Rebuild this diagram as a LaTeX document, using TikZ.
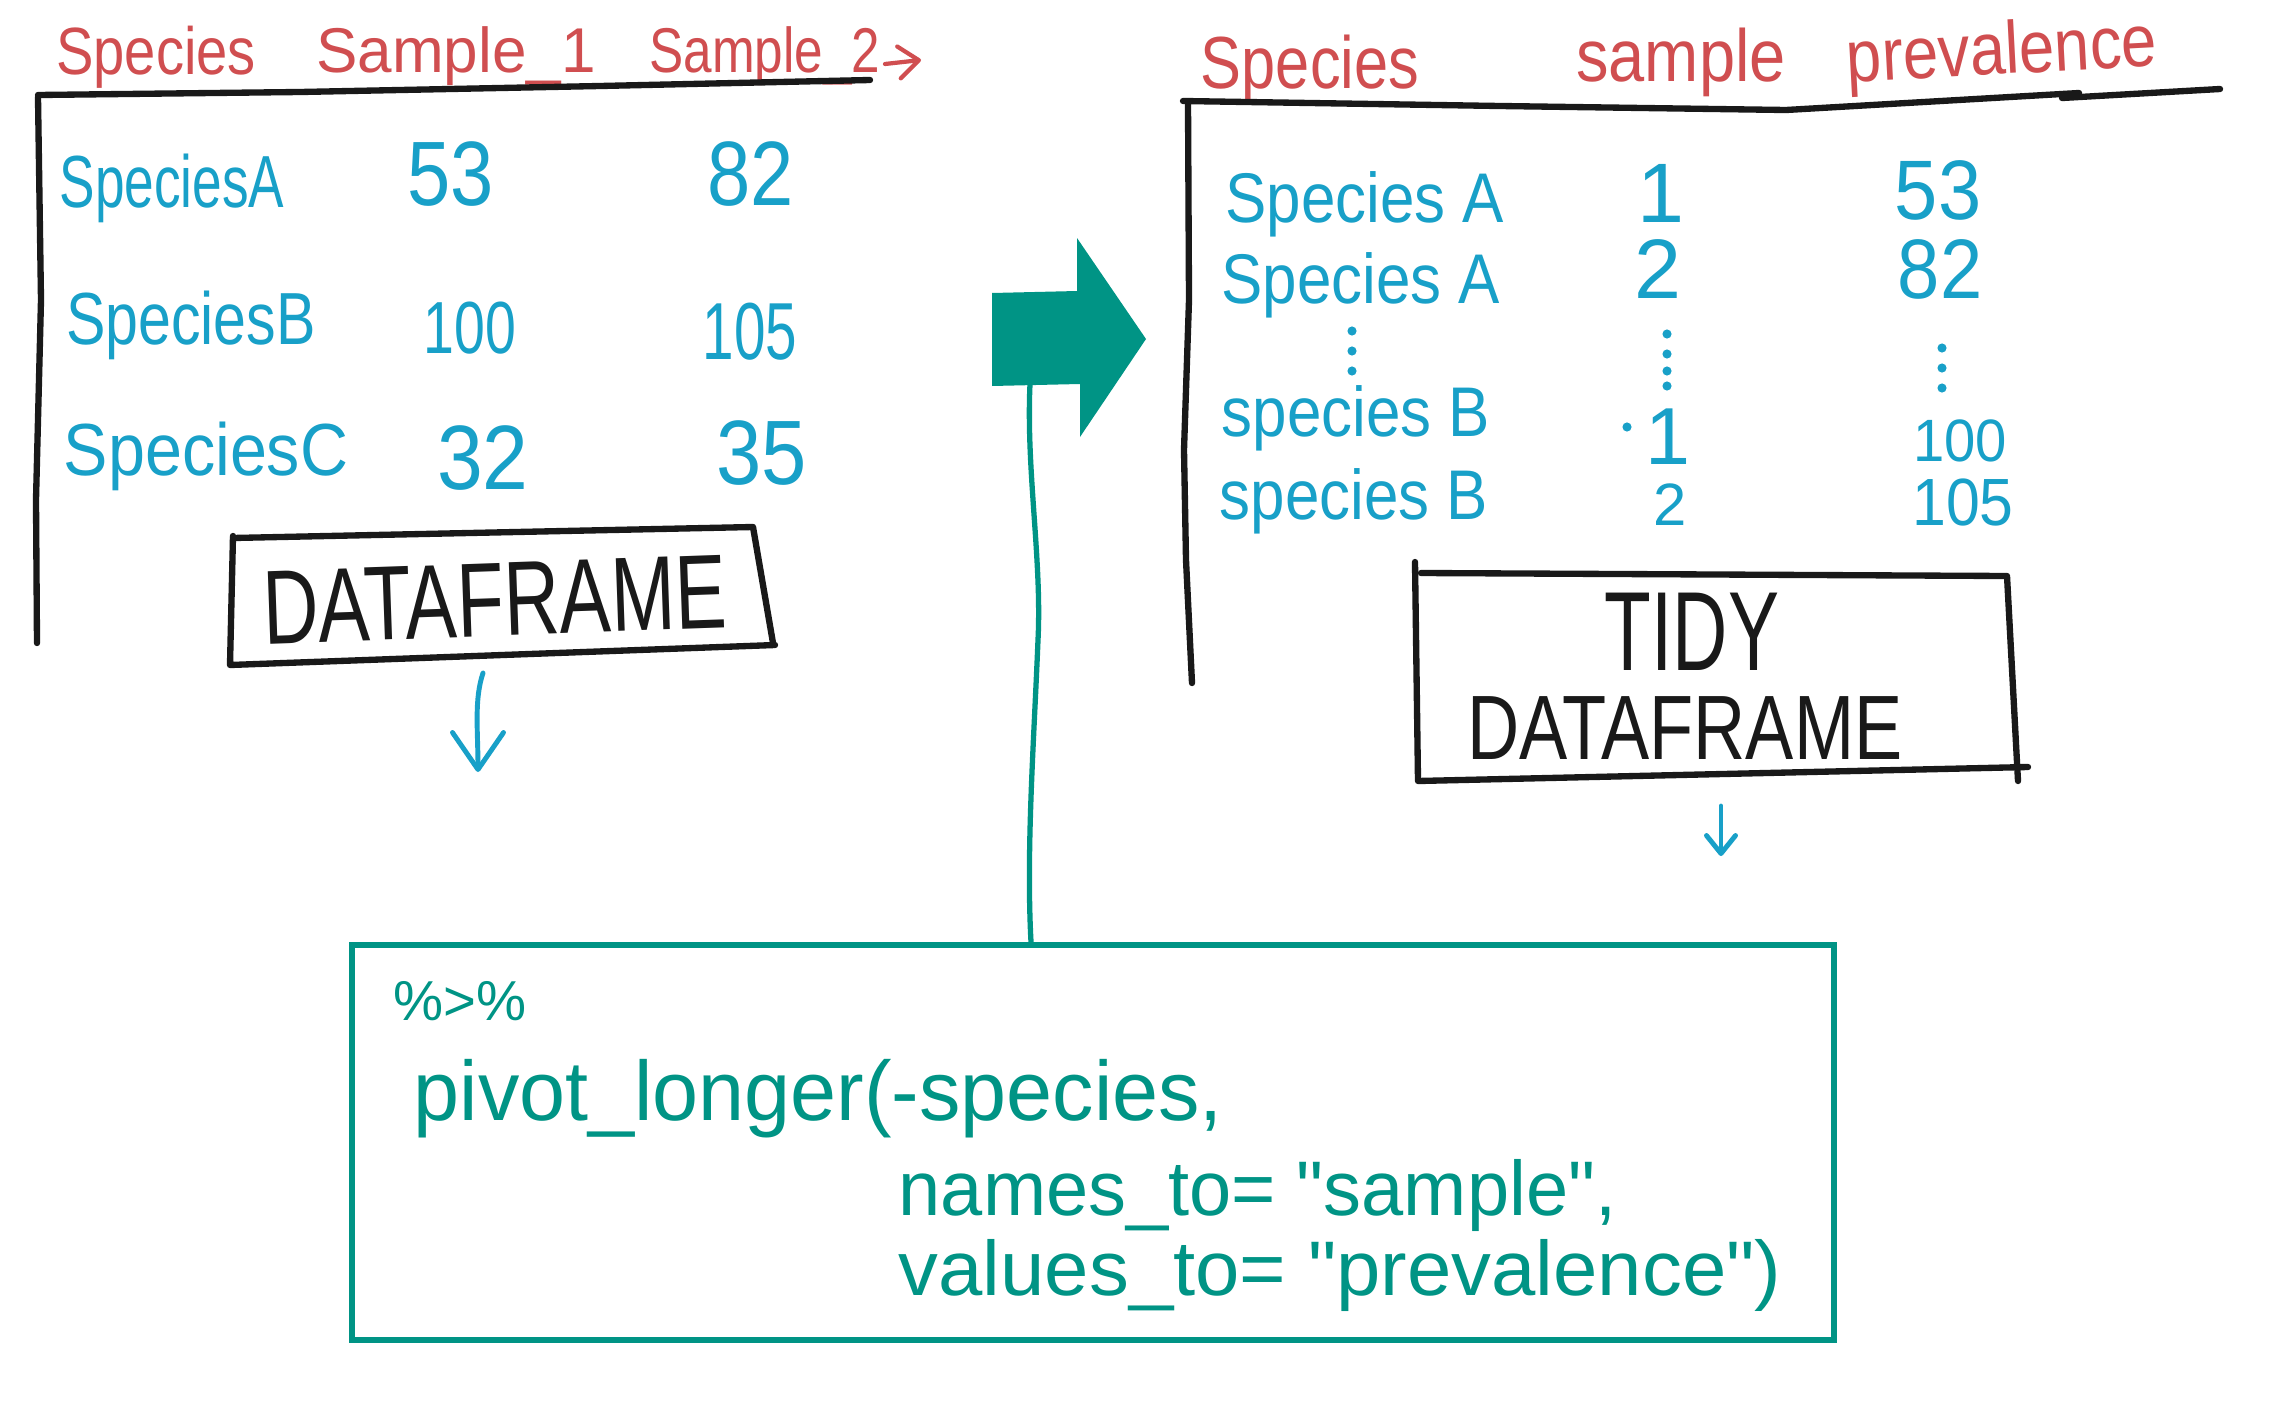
\documentclass[tikz,border=0pt]{standalone}
\usepackage{fontspec}
\setmainfont{Liberation Sans}
\newfontfamily\codef{Liberation Sans}
\usetikzlibrary{arrows.meta}
\definecolor{hred}{RGB}{208,78,80}
\definecolor{hblue}{RGB}{24,160,200}
\definecolor{hteal}{RGB}{0,148,133}
\definecolor{hblack}{RGB}{25,25,25}
\newcommand{\hwt}[3]{{\fontsize{#1}{#1}\selectfont\scalebox{#2}[1]{#3}}}
\begin{document}
\begin{tikzpicture}[x=0.01cm,y=-0.01cm,
  txt/.style={inner sep=0pt, anchor=base},
  redtxt/.style={txt, text=hred},
  bluetxt/.style={txt, text=hblue},
  blacktxt/.style={txt, text=hblack},
  codetxt/.style={inner sep=0pt, anchor=base west, text=hteal, font=\codef},
  tblline/.style={draw=hblack, line width=1.8pt, line cap=round, line join=round},
  bluearrow/.style={draw=hblue, line width=1.4pt, line cap=round},
  tealline/.style={draw=hteal, line width=1.5pt, line cap=round},
  dotb/.style={fill=hblue}
]
\fill[white] (0,0) rectangle (2284,1409);
\useasboundingbox (0,0) rectangle (2284,1409);

% ---------- left table ----------
\node[redtxt] (lh1) at (156,74) {\hwt{19}{0.84}{Species}};
\node[redtxt] (lh2) at (456,72) {\hwt{18}{0.98}{Sample\_1}};
\node[redtxt] (lh3) at (765,72) {\hwt{18}{0.81}{Sample\_2}};
\coordinate (ra1) at (885,64);
\coordinate (ra2) at (921,60);
\draw[draw=hred, line width=1.2pt, line cap=round, -{Straight Barb[length=2mm,width=3.2mm,round]}] (ra1) -- (ra2);

\draw[tblline] (38,95) -- (300,92) -- (600,86) -- (870,80);
\draw[tblline] (38,97) -- (41,300) -- (36,500) -- (37,643);

\node[bluetxt] (la) at (172,207) {\hwt{21}{0.72}{SpeciesA}};
\node[bluetxt] (la1) at (451,205) {\hwt{26}{0.85}{53}};
\node[bluetxt] (la2) at (751,205) {\hwt{26}{0.85}{82}};
\node[bluetxt] (lb) at (191,344) {\hwt{21}{0.80}{SpeciesB}};
\node[bluetxt] (lb1) at (470,353) {\hwt{21}{0.75}{100}};
\node[bluetxt] (lb2) at (750,359) {\hwt{23}{0.70}{105}};
\node[bluetxt] (lc) at (206,475) {\hwt{21}{0.90}{SpeciesC}};
\node[bluetxt] (lc1) at (483,489) {\hwt{26}{0.90}{32}};
\node[bluetxt] (lc2) at (762,484) {\hwt{26}{0.89}{35}};

\draw[tblline] (233,538) -- (753,527) -- (773,643);
\draw[tblline] (775,645) -- (230,665) -- (233,536);
\node[blacktxt, rotate=2] (ldf) at (496,636) {\hwt{30}{0.73}{DATAFRAME}};

\coordinate (la_s) at (483,673);
\coordinate (la_e) at (478,772);
\draw[bluearrow, -{Straight Barb[length=3.7mm,width=5.1mm,round]}] (la_s) .. controls (474,700) and (478,730) .. (la_e);

% ---------- big teal arrow ----------
\fill[hteal] (992,293) -- (1077,291) -- (1077,238) -- (1146,339) -- (1080,437) -- (1080,384) -- (992,386) -- cycle;
\coordinate (afoot) at (1030,384);

% ---------- right table ----------
\node[redtxt] (rh1) at (1310,88) {\hwt{21}{0.83}{Species}};
\node[redtxt] (rh2) at (1681,81) {\hwt{21}{0.88}{sample}};
\node[redtxt, rotate=3] (rh3) at (2003,74) {\hwt{21}{0.86}{prevalence}};

\draw[tblline] (1183,101) -- (1500,106) -- (1786,110) -- (2079,93);
\draw[tblline] (2062,98) -- (2220,89);
\draw[tblline] (1188,102) -- (1189,300) -- (1184,450) -- (1186,560) -- (1192,683);

\node[bluetxt] (r1a) at (1365,222) {\hwt{20}{0.88}{Species A}};
\node[bluetxt] (r1b) at (1661,222) {\hwt{24}{1}{1}};
\node[bluetxt] (r1c) at (1938,219) {\hwt{24}{0.92}{53}};
\node[bluetxt] (r2a) at (1361,303) {\hwt{20}{0.88}{Species A}};
\node[bluetxt] (r2b) at (1658,298) {\hwt{24}{1}{2}};
\node[bluetxt] (r2c) at (1940,298) {\hwt{24}{0.90}{82}};
\node[bluetxt] (r3a) at (1356,436) {\hwt{20}{0.88}{species B}};
\node[bluetxt] (r3b) at (1668,464) {\hwt{23}{1}{1}};
\node[bluetxt] (r3c) at (1960,461) {\hwt{17}{0.94}{100}};
\node[bluetxt] (r4a) at (1354,519) {\hwt{20}{0.88}{species B}};
\node[bluetxt] (r4b) at (1670,525) {\hwt{17}{1}{2}};
\node[bluetxt] (r4c) at (1963,525) {\hwt{19}{0.91}{105}};

\foreach \yy in {331,351,371} \fill[dotb] (1352,\yy) circle (1.3pt);
\foreach \yy in {334,354,371,386} \fill[dotb] (1667,\yy) circle (1.3pt);
\foreach \yy in {348,368,388} \fill[dotb] (1942,\yy) circle (1.3pt);
\fill[dotb] (1627,427) circle (1.3pt);

\draw[tblline] (1415,562) -- (1418,781) -- (2028,767);
\draw[tblline] (1421,573) -- (2007,576) -- (2018,781);
\node[blacktxt] (tidy) at (1692,670) {\hwt{32}{0.68}{TIDY}};
\node[blacktxt] (rdf) at (1685,759) {\hwt{26}{0.79}{DATAFRAME}};

\coordinate (rb_s) at (1721,806);
\coordinate (rb_e) at (1721,856);
\draw[bluearrow, -{Straight Barb[length=1.8mm,width=2.9mm,round]}] (rb_s) -- (rb_e);

% ---------- code box ----------
\node[draw=hteal, line width=1.7pt, minimum width=14.82cm, minimum height=3.95cm, inner sep=0pt] (codebox) at (1093,1142.5) {};
\draw[tealline] (afoot) .. controls (1026,470) and (1042,560) .. (1038,640) .. controls (1034,740) and (1026,850) .. (codebox.north -| 1031,0);

\node[codetxt] (pipe) at (393,1020) {\hwt{16}{1}{\%>\%}};
\node[codetxt] (c1) at (413,1120) {\hwt{24}{0.98}{pivot\_longer(-species,}};
\node[codetxt] (c2) at (898,1215) {\hwt{22}{0.98}{names\_to= "sample",}};
\node[codetxt] (c3) at (898,1295) {\hwt{22}{1.03}{values\_to= "prevalence")}};
\end{tikzpicture}
\end{document}
